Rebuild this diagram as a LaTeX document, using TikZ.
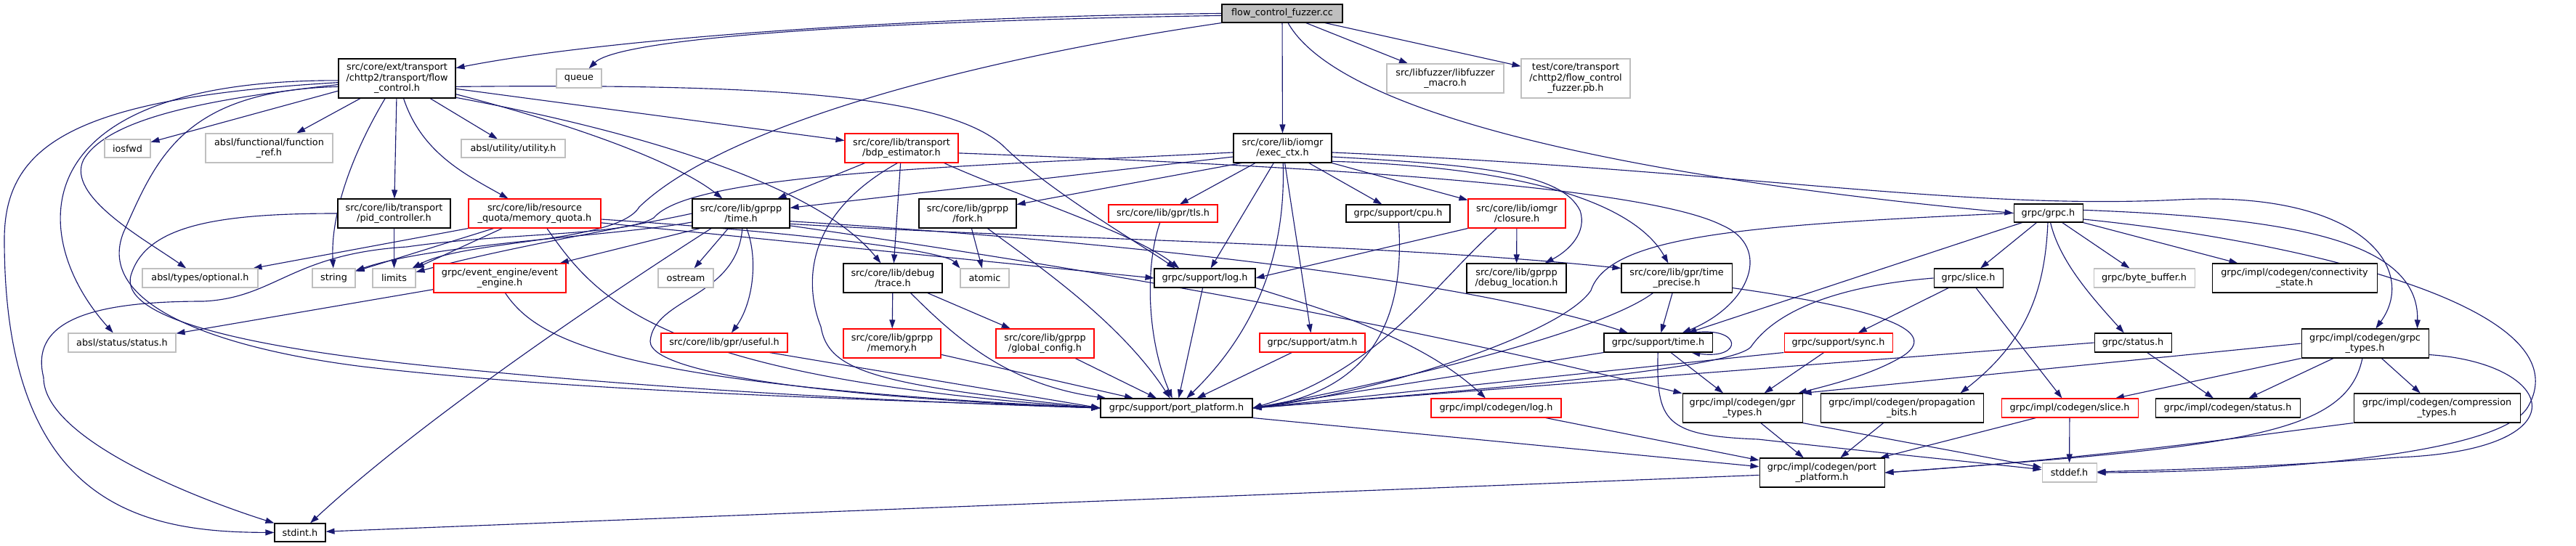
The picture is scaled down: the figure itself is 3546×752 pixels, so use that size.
\documentclass[tikz,border=0pt]{standalone}
\usepackage{fontspec}
\setmainfont{DejaVu Sans}
\usetikzlibrary{arrows.meta,backgrounds}
\definecolor{edgec}{RGB}{25,25,112}
\definecolor{grayc}{RGB}{191,191,191}
\definecolor{redc}{RGB}{255,0,0}
\definecolor{rootfill}{RGB}{191,191,191}
\newcommand\mybox[7]{\node[#6, minimum width={(#4-#2)*0.75pt}, minimum height={(#5-#3)*0.75pt}] (#1) at ({(#2+#4)/2},{(#3+#5)/2}) {#7};}
\tikzset{
  edg/.style={draw=edgec, line width=0.85pt, -{Triangle[length=9pt,width=6pt]}},
  nb/.style={draw=black, line width=0.8pt, fill=white, inner sep=0pt, align=center, font=\fontsize{9.6}{10.8}\selectfont},
  ng/.style={nb, draw=grayc},
  nr/.style={nb, draw=redc},
  nroot/.style={nb, fill=rootfill},
}
\begin{document}
\begin{tikzpicture}[x=0.75pt,y=-0.75pt]
\useasboundingbox (0,0) rectangle (3546,752);
% nodes
\mybox{fuzzer}{1682}{6}{1848}{31}{nroot}{flow\_control\_fuzzer.cc}
\mybox{fc}{466}{81}{627}{135}{nb}{src/core/ext/transport\\/chttp2/transport/flow\\\_control.h}
\mybox{queue}{766}{95}{828}{121}{ng}{queue}
\mybox{libfuzz}{1909}{88}{2070}{128}{ng}{src/libfuzzer/libfuzzer\\\_macro.h}
\mybox{pbh}{2094}{81}{2244}{135}{ng}{test/core/transport\\/chttp2/flow\_control\\\_fuzzer.pb.h}
\mybox{iosfwd}{144}{192}{207}{217}{ng}{iosfwd}
\mybox{funcref}{283}{184}{458}{224}{ng}{absl/functional/function\\\_ref.h}
\mybox{utility}{635}{192}{778}{217}{ng}{absl/utility/utility.h}
\mybox{bdp}{1163}{184}{1319}{224}{nr}{src/core/lib/transport\\/bdp\_estimator.h}
\mybox{exec}{1698}{184}{1833}{224}{nb}{src/core/lib/iomgr\\/exec\_ctx.h}
\mybox{pid}{465}{274}{620}{314}{nb}{src/core/lib/transport\\/pid\_controller.h}
\mybox{mq}{645}{274}{827}{314}{nr}{src/core/lib/resource\\\_quota/memory\_quota.h}
\mybox{gtime}{953}{274}{1087}{314}{nb}{src/core/lib/gprpp\\/time.h}
\mybox{fork}{1265}{274}{1399}{314}{nb}{src/core/lib/gprpp\\/fork.h}
\mybox{tls}{1526}{282}{1676}{306}{nr}{src/core/lib/gpr/tls.h}
\mybox{cpu}{1853}{282}{1996}{306}{nb}{grpc/support/cpu.h}
\mybox{closure}{2021}{274}{2155}{314}{nr}{src/core/lib/iomgr\\/closure.h}
\mybox{grpch}{2772}{281}{2867}{306}{nb}{grpc/grpc.h}
\mybox{optional}{196}{370}{355}{396}{ng}{absl/types/optional.h}
\mybox{string}{430}{370}{489}{396}{ng}{string}
\mybox{limits}{513}{370}{572}{396}{ng}{limits}
\mybox{ee}{597}{363}{779}{403}{nr}{grpc/event\_engine/event\\\_engine.h}
\mybox{ostream}{906}{370}{982}{396}{ng}{ostream}
\mybox{trace}{1161}{363}{1297}{403}{nb}{src/core/lib/debug\\/trace.h}
\mybox{atomic}{1322}{370}{1389}{396}{ng}{atomic}
\mybox{log}{1589}{370}{1728}{396}{nb}{grpc/support/log.h}
\mybox{debugloc}{2019}{363}{2156}{403}{nb}{src/core/lib/gprpp\\/debug\_location.h}
\mybox{tprecise}{2232}{363}{2384}{403}{nb}{src/core/lib/gpr/time\\\_precise.h}
\mybox{slice}{2662}{370}{2757}{396}{nb}{grpc/slice.h}
\mybox{bytebuf}{2882}{370}{3021}{396}{ng}{grpc/byte\_buffer.h}
\mybox{conn}{3045}{363}{3272}{403}{nb}{grpc/impl/codegen/connectivity\\\_state.h}
\mybox{status}{94}{459}{242}{485}{ng}{absl/status/status.h}
\mybox{useful}{910}{459}{1084}{485}{nr}{src/core/lib/gpr/useful.h}
\mybox{memory}{1161}{453}{1295}{493}{nr}{src/core/lib/gprpp\\/memory.h}
\mybox{gconfig}{1371}{453}{1506}{493}{nr}{src/core/lib/gprpp\\/global\_config.h}
\mybox{atm}{1734}{459}{1879}{485}{nr}{grpc/support/atm.h}
\mybox{stime}{2208}{459}{2357}{485}{nb}{grpc/support/time.h}
\mybox{sync}{2456}{459}{2605}{485}{nr}{grpc/support/sync.h}
\mybox{gstatus}{2883}{459}{2989}{485}{nb}{grpc/status.h}
\mybox{gtypes}{3168}{453}{3343}{493}{nb}{grpc/impl/codegen/grpc\\\_types.h}
\mybox{pp}{1515}{549}{1724}{575}{nb}{grpc/support/port\_platform.h}
\mybox{clog}{1970}{549}{2149}{575}{nr}{grpc/impl/codegen/log.h}
\mybox{gprt}{2316}{542}{2481}{582}{nb}{grpc/impl/codegen/gpr\\\_types.h}
\mybox{prop}{2506}{542}{2730}{582}{nb}{grpc/impl/codegen/propagation\\\_bits.h}
\mybox{cslice}{2755}{549}{2943}{575}{nr}{grpc/impl/codegen/slice.h}
\mybox{cstatus}{2967}{549}{3166}{575}{nb}{grpc/impl/codegen/status.h}
\mybox{comp}{3240}{542}{3469}{582}{nb}{grpc/impl/codegen/compression\\\_types.h}
\mybox{stdint}{378}{721}{448}{746}{nb}{stdint.h}
\mybox{stddef}{2811}{638}{2886}{664}{ng}{stddef.h}
\mybox{cpp}{2422}{631}{2594}{671}{nb}{grpc/impl/codegen/port\\\_platform.h}
\begin{pgfonlayer}{background}
% fuzzer
\draw[edg] (fuzzer.west) .. controls (1300,22) and (850,50) .. (fc.10);
\draw[edg] (fuzzer.182) .. controls (1150,30) and (850,55) .. (queue.45);
\draw[edg] (fuzzer.south west) .. controls (1350,80) and (1000,170) .. (880,285) .. controls (850,335) and (640,330) .. (limits);
\draw[edg] (fuzzer) -- (exec);
\draw[edg] (fuzzer) -- (libfuzz);
\draw[edg] (fuzzer) -- (pbh);
\draw[edg] ([xshift=6pt]fuzzer.south) .. controls (1840,150) and (2200,240) .. (grpch.west);
% flow_control.h
\draw[edg] (fc.192) -- (iosfwd);
\draw[edg] (fc) -- (funcref);
\draw[edg] (fc) -- (utility);
\draw[edg] (fc) -- (pid);
\draw[edg] (fc) .. controls (580,210) and (640,240) .. (mq);
\draw[edg] (fc) .. controls (480,220) and (455,300) .. (string);
\draw[edg] (fc.186) .. controls (300,135) and (150,160) .. (115,220) .. controls (90,270) and (200,330) .. (optional);
\draw[edg] (fc.182) .. controls (20,110) and (40,330) .. (status);
\draw[edg] (fc.184) .. controls (100,135) and (6,200) .. (6,330) .. controls (6,700) and (200,733) .. (stdint);
\draw[edg] (fc.188) .. controls (250,125) and (215,220) .. (170,320) .. controls (130,420) and (300,480) .. (500,505) .. controls (800,540) and (1200,550) .. (pp.west);
\draw[edg] (fc.-10) -- (bdp);
\draw[edg] (fc.-15) .. controls (820,180) and (940,230) .. (gtime);
\draw[edg] (fc.-18) .. controls (900,185) and (1130,260) .. (trace);
\draw[edg] (fc.-8) .. controls (1050,115) and (1300,130) .. (1380,200) .. controls (1440,260) and (1560,330) .. ([xshift=22pt]log.north west);
% pid
\draw[edg] (pid) -- (limits);
\draw[edg] (pid.west) .. controls (300,294) and (200,310) .. (180,380) .. controls (165,440) and (350,480) .. (600,505) .. controls (900,535) and (1200,552) .. (pp.west);
% memory_quota
\draw[edg] (mq.south west) -- (optional);
\draw[edg] (mq.200) -- (string);
\draw[edg] (mq) -- (limits);
\draw[edg] (mq.-5) .. controls (1100,320) and (1300,345) .. (atomic.north west);
\draw[edg] (mq.-8) -- (log.west);
\draw[edg] ([xshift=-56pt]mq.south east) .. controls (820,410) and (900,520) .. (pp.west);
% gprpp/time.h
\draw[edg] (gtime) -- (ostream);
\draw[edg] (gtime) .. controls (1045,360) and (1035,420) .. (useful);
\draw[edg] ([xshift=20pt]gtime.south west) .. controls (900,365) and (600,560) .. (stdint);
\draw[edg] (gtime.west) .. controls (880,310) and (700,340) .. (limits);
\draw[edg] (gtime.190) .. controls (850,325) and (600,335) .. (string);
\draw[edg] (gtime.200) -- (ee);
\draw[edg] (gtime.-9) .. controls (1500,330) and (2000,380) .. (stime);
\draw[edg] (gtime.-12) .. controls (1450,330) and (1900,335) .. (tprecise.170);
\draw[edg] (gtime.-14) .. controls (1500,370) and (1900,440) .. (gprt);
\draw[edg] (gtime.275) .. controls (1015,410) and (900,410) .. (895,470) .. controls (895,520) and (1200,550) .. (pp.west);
% bdp
\draw[edg] (bdp) -- (gtime);
\draw[edg] (bdp) -- (trace);
\draw[edg] (bdp.255) .. controls (1100,300) and (1110,400) .. (1130,450) .. controls (1140,510) and (1200,530) .. (pp.west);
\draw[edg] ([xshift=-15pt]bdp.south east) .. controls (1400,270) and (1560,320) .. ([xshift=26pt]log.north west);
\draw[edg] (bdp.-5) .. controls (1700,225) and (2250,250) .. (2370,310) .. controls (2440,340) and (2410,420) .. (stime);
% exec_ctx
\draw[edg] (exec.190) -- (gtime);
\draw[edg] (exec.200) -- (fork);
\draw[edg] (exec) -- (tls);
\draw[edg] (exec) -- (log);
\draw[edg] (exec) .. controls (1770,340) and (1735,450) .. (pp);
\draw[edg] (exec) -- (atm);
\draw[edg] (exec) -- (cpu);
\draw[edg] (exec.south east) -- (closure);
\draw[edg] (exec.-10) .. controls (2050,228) and (2150,240) .. (2175,290) .. controls (2185,320) and (2160,345) .. (debugloc);
\draw[edg] (exec.-15) .. controls (2100,230) and (2250,280) .. (tprecise);
\draw[edg] (exec.-5) .. controls (2400,235) and (2700,290) .. (3000,275) .. controls (3250,262) and (3330,370) .. (gtypes);
\draw[edg] (exec.185) .. controls (1300,230) and (950,240) .. (900,300) .. controls (860,325) and (700,320) .. (560,340) .. controls (400,350) and (380,410) .. (280,415) .. controls (130,415) and (40,440) .. (60,520) .. controls (60,600) and (250,680) .. (stdint.north west);
% fork, tls, cpu, closure
\draw[edg] (fork) -- (atomic);
\draw[edg] (fork) .. controls (1420,360) and (1540,440) .. (pp);
\draw[edg] (tls) .. controls (1575,370) and (1580,470) .. (pp);
\draw[edg] (cpu) .. controls (1935,450) and (1880,540) .. (pp.east);
\draw[edg] (closure) -- (debugloc);
\draw[edg] (closure.south west) -- (log.east);
\draw[edg] ([xshift=30pt]closure.south west) .. controls (1975,390) and (1900,510) .. (pp.east);
% grpc.h
\draw[edg] (grpch) -- (slice);
\draw[edg] (grpch) -- (bytebuf);
\draw[edg] (grpch.south east) -- (conn);
\draw[edg] (grpch) .. controls (2835,360) and (2880,410) .. (gstatus);
\draw[edg] (grpch) .. controls (2815,400) and (2790,470) .. ([xshift=-24pt]prop.north east);
\draw[edg] (grpch.200) -- (stime);
\draw[edg] (grpch.west) .. controls (2400,310) and (2215,325) .. (2190,400) .. controls (2150,460) and (1900,540) .. (pp.east);
\draw[edg] (grpch.5) .. controls (3150,300) and (3330,330) .. ([xshift=-12pt]gtypes.north east);
\draw[edg] (grpch.-10) .. controls (3150,330) and (3560,420) .. (3480,560) .. controls (3440,630) and (3100,650) .. (stddef.east);
% slice
\draw[edg] (slice) -- (cslice);
\draw[edg] (slice) -- (sync);
\draw[edg] (slice.west) .. controls (2550,392) and (2450,420) .. (2410,478) .. controls (2380,510) and (2000,540) .. (pp.east);
% status
\draw[edg] (gstatus) -- (cstatus);
\draw[edg] (gstatus.west) -- (pp.east);
% grpc_types
\draw[edg] (gtypes.south west) -- (cslice);
\draw[edg] (gtypes) -- (cstatus);
\draw[edg] (gtypes) -- (comp);
\draw[edg] (gtypes.-10) .. controls (3520,500) and (3560,620) .. (3300,630) .. controls (3100,645) and (2950,648) .. (stddef);
\draw[edg] (gtypes.west) -- (gprt.north east);
\draw[edg] (gtypes.260) .. controls (3230,600) and (3080,615) .. (cpp.east);
\draw[edg] (comp.south west) .. controls (3100,600) and (2900,630) .. (cpp.east);
% codegen/slice
\draw[edg] (cslice) -- (stddef);
\draw[edg] ([xshift=36pt]cslice.south west) -- (cpp);
% gpr_types, propagation
\draw[edg] (gprt) -- (cpp);
\draw[edg] (gprt.south east) -- (stddef);
\draw[edg] (prop) -- (cpp);
% support/time.h
\draw[edg] (stime) -- (gprt);
\draw[edg] (stime.south west) -- (pp.east);
\draw[edg] (stime) .. controls (2280,580) and (2290,600) .. (2420,605) .. controls (2600,625) and (2750,640) .. (stddef);
\draw[edg] ([xshift=-22pt]stime.north east) .. controls (2400,448) and (2400,496) .. ([xshift=-22pt]stime.south east);
% sync
\draw[edg] (sync) -- (gprt);
\draw[edg] (sync.south west) -- (pp.east);
% time_precise
\draw[edg] (tprecise) -- (stime);
\draw[edg] (tprecise.-10) .. controls (2550,420) and (2680,450) .. (2620,490) .. controls (2580,515) and (2520,530) .. (gprt.15);
\draw[edg] ([xshift=33pt]tprecise.south west) .. controls (2200,460) and (1900,530) .. (pp.east);
% log, atm
\draw[edg] (log) -- (pp);
\draw[edg] (log.south east) .. controls (1800,420) and (1950,460) .. (clog);
\draw[edg] (atm) -- (pp);
% trace
\draw[edg] (trace) -- (memory);
\draw[edg] (trace) -- (gconfig);
\draw[edg] ([xshift=-33pt]trace.south east) .. controls (1320,470) and (1390,530) .. (pp);
\draw[edg] (memory) -- (pp);
\draw[edg] (gconfig) -- (pp);
\draw[edg] ([xshift=-19pt]useful.south east) -- (pp.west);
% event_engine
\draw[edg] (ee) -- (status);
\draw[edg] (ee.-70) .. controls (740,470) and (850,530) .. (pp.west);
% codegen log, port_platform
\draw[edg] (clog) -- (cpp);
\draw[edg] (pp.south east) -- (cpp);
\draw[edg] (cpp) -- (stdint);
\end{pgfonlayer}
\end{tikzpicture}
\end{document}
